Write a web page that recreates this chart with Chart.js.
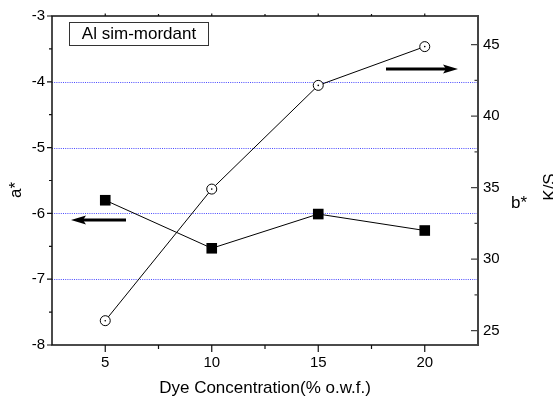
<!DOCTYPE html>
<html>
<head>
<meta charset="utf-8">
<script src="https://cdn.jsdelivr.net/npm/chart.js@4/dist/chart.umd.min.js"></script>
<style>
html,body{margin:0;padding:0;background:#fff;}
#wrap{width:553px;height:403px;position:relative;}
</style>
</head>
<body>
<div id="wrap"><canvas id="c" width="553" height="403"></canvas></div>
<script>
// ---- data ----
const concentrations = [5, 10, 15, 20];
const aStar = [-5.80, -6.53, -6.01, -6.26];      // left axis, filled squares
const bStar = [25.7, 34.9, 42.15, 44.86];        // right axis, open circles
const xTicks = [5, 10, 15, 20];
const xMinorTicks = [7.5, 12.5, 17.5];
const aTicks = [-3, -4, -5, -6, -7, -8];
const aMinorTicks = [-3.5, -4.5, -5.5, -6.5, -7.5];
const aGrid = [-4, -5, -6, -7];
const bTicks = [25, 30, 35, 40, 45];
const bMinorTicks = [27.5, 32.5, 37.5, 42.5];
const xTitle = 'Dye Concentration(% o.w.f.)';
const aTitle = 'a*';
const bTitle = 'b*';
const ksTitle = 'K/S';
const boxLabel = 'Al sim-mordant';

const FONT = '"Liberation Sans", Arial, sans-serif';

const pts = (ys) => concentrations.map((x, i) => ({x, y: ys[i]}));

const framePlugin = {
  id: 'frame',
  beforeDatasetsDraw(chart) {
    const {ctx, chartArea: a, scales} = chart;
    ctx.save();
    ctx.strokeStyle = '#4a4aff';
    ctx.lineWidth = 1;
    ctx.setLineDash([1, 1.2]);
    aGrid.forEach(v => {
      const y = Math.round(scales.y.getPixelForValue(v)) + 0.5;
      ctx.beginPath(); ctx.moveTo(a.left, y); ctx.lineTo(a.right, y); ctx.stroke();
    });
    ctx.restore();
  },
  afterDraw(chart) {
    const {ctx, chartArea: a, scales} = chart;
    const sx = scales.x, sy = scales.y, sy2 = scales.y2;
    ctx.save();
    // axis lines
    ctx.lineCap = 'square';
    ctx.strokeStyle = '#111';
    ctx.lineWidth = 1.5;
    ctx.beginPath();
    ctx.moveTo(a.left, a.top); ctx.lineTo(a.right, a.top);
    ctx.moveTo(a.left, a.top); ctx.lineTo(a.left, a.bottom);
    ctx.moveTo(a.left, a.bottom); ctx.lineTo(a.right, a.bottom);
    ctx.stroke();
    ctx.strokeStyle = '#444';
    ctx.lineWidth = 2;
    ctx.beginPath();
    ctx.moveTo(a.right, a.top); ctx.lineTo(a.right, a.bottom);
    ctx.stroke();
    // ticks
    ctx.lineCap = 'butt';
    ctx.strokeStyle = '#111';
    ctx.lineWidth = 1.2;
    ctx.beginPath();
    xTicks.forEach(v => { const x = sx.getPixelForValue(v); ctx.moveTo(x, a.bottom); ctx.lineTo(x, a.bottom + 7); ctx.moveTo(x, a.top); ctx.lineTo(x, a.top - 2.5); });
    xMinorTicks.forEach(v => { const x = sx.getPixelForValue(v); ctx.moveTo(x, a.bottom); ctx.lineTo(x, a.bottom + 4); ctx.moveTo(x, a.top); ctx.lineTo(x, a.top - 2); });
    aTicks.forEach(v => { const y = sy.getPixelForValue(v); ctx.moveTo(a.left, y); ctx.lineTo(a.left - 5, y); });
    aMinorTicks.forEach(v => { const y = sy.getPixelForValue(v); ctx.moveTo(a.left, y); ctx.lineTo(a.left - 3, y); });
    ctx.stroke();
    ctx.strokeStyle = '#444';
    ctx.beginPath();
    bTicks.forEach(v => { const y = sy2.getPixelForValue(v); ctx.moveTo(a.right, y); ctx.lineTo(a.right - 7, y); });
    bMinorTicks.forEach(v => { const y = sy2.getPixelForValue(v); ctx.moveTo(a.right, y); ctx.lineTo(a.right - 3.5, y); });
    ctx.stroke();

    // label box
    ctx.fillStyle = '#fff';
    ctx.fillRect(69, 22, 139, 23);
    ctx.strokeStyle = '#333';
    ctx.lineWidth = 1;
    ctx.strokeRect(69.5, 22.5, 139, 23);
    ctx.fillStyle = '#000';
    ctx.font = '17px ' + FONT;
    ctx.textAlign = 'center';
    ctx.textBaseline = 'middle';
    ctx.fillText(boxLabel, 139, 34.5);

    // arrows
    const arrow = (x1, x2, y) => {
      const dir = Math.sign(x2 - x1);
      ctx.strokeStyle = '#000';
      ctx.lineWidth = 3;
      ctx.beginPath(); ctx.moveTo(x1, y); ctx.lineTo(x2 - dir * 10, y); ctx.stroke();
      ctx.fillStyle = '#000';
      ctx.beginPath();
      ctx.moveTo(x2, y);
      ctx.lineTo(x2 - dir * 15, y - 4.5);
      ctx.lineTo(x2 - dir * 12, y);
      ctx.lineTo(x2 - dir * 15, y + 4.5);
      ctx.closePath(); ctx.fill();
    };
    arrow(126, 71, 220);
    arrow(386, 458, 69);

    // titles
    ctx.fillStyle = '#000';
    ctx.font = '17px ' + FONT;
    ctx.textAlign = 'center';
    ctx.textBaseline = 'middle';
    ctx.fillText(xTitle, (a.left + a.right) / 2, 388);
    ctx.textAlign = 'left';
    ctx.fillText(bTitle, 511, 203);
    ctx.save();
    ctx.translate(16, 190);
    ctx.rotate(-Math.PI / 2);
    ctx.textAlign = 'center';
    ctx.fillText(aTitle, 0, 0);
    ctx.restore();
    ctx.save();
    ctx.translate(550, 187);
    ctx.rotate(-Math.PI / 2);
    ctx.textAlign = 'center';
    ctx.fillText(ksTitle, 0, 0);
    ctx.restore();
    ctx.restore();
  }
};

new Chart(document.getElementById('c'), {
  type: 'scatter',
  data: {
    datasets: [
      {
        label: 'b*',
        data: pts(bStar),
        yAxisID: 'y2',
        showLine: true,
        borderColor: '#000',
        borderWidth: 1,
        pointStyle: 'circle',
        pointRadius: 5,
        pointBorderWidth: 1,
        pointBackgroundColor: '#fff',
        pointBorderColor: '#000',
        order: 3
      },
      {
        label: 'b* centre',
        data: pts(bStar),
        yAxisID: 'y2',
        showLine: false,
        pointRadius: 0.8,
        pointBorderWidth: 0,
        pointBackgroundColor: '#000',
        order: 2
      },
      {
        label: 'a*',
        data: pts(aStar),
        yAxisID: 'y',
        showLine: true,
        borderColor: '#000',
        borderWidth: 1,
        pointStyle: 'rect',
        pointRadius: 7.5,
        pointBorderWidth: 0,
        pointBackgroundColor: '#000',
        order: 1
      }
    ]
  },
  options: {
    responsive: false,
    animation: false,
    events: [],
    layout: {padding: {top: 13, left: 0, right: 0, bottom: 0}},
    plugins: {legend: {display: false}, tooltip: {enabled: false}},
    scales: {
      x: {
        type: 'linear',
        min: 2.5, max: 22.5,
        afterBuildTicks: s => { s.ticks = xTicks.map(v => ({value: v})); },
        afterFit: s => { s.height = 58; },
        grid: {display: false, drawTicks: false},
        border: {display: false},
        ticks: {color: '#000', font: {family: FONT, size: 15}, padding: 9}
      },
      y: {
        position: 'left',
        min: -8, max: -3,
        afterBuildTicks: s => { s.ticks = aTicks.map(v => ({value: v})); },
        afterFit: s => { s.width = 52; },
        grid: {display: false, drawTicks: false},
        border: {display: false},
        ticks: {color: '#000', font: {family: FONT, size: 15}, padding: 7}
      },
      y2: {
        position: 'right',
        min: 24, max: 47,
        afterBuildTicks: s => { s.ticks = bTicks.map(v => ({value: v})); },
        afterFit: s => { s.width = 75; },
        grid: {display: false, drawTicks: false},
        border: {display: false},
        ticks: {color: '#000', font: {family: FONT, size: 15}, padding: 5}
      }
    }
  },
  plugins: [framePlugin]
});
</script>
</body>
</html>
